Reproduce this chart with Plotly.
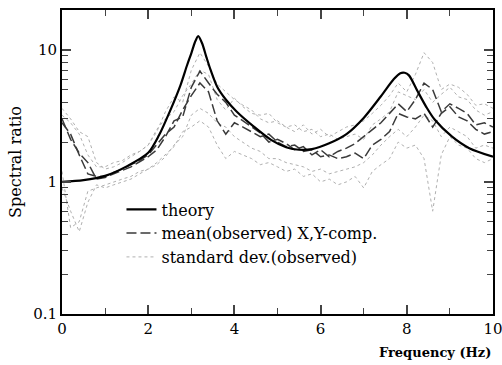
import plotly.graph_objects as go

# ---- data ----
freq_theory = [0, 0.5, 1.0, 1.5, 2.0, 2.25, 2.5, 2.75, 2.9, 3.0, 3.08, 3.16, 3.25, 3.35, 3.45, 3.6,
               3.8, 4.05, 4.45, 4.85, 5.2, 5.5, 5.8, 6.2, 6.6, 7.0, 7.4, 7.7, 7.85, 7.95, 8.05,
               8.25, 8.45, 8.65, 9.05, 9.45, 10.0]
theory = [1.0, 1.03, 1.11, 1.31, 1.66, 2.25, 3.4, 5.4, 7.6, 9.4, 11.3, 12.7, 11.2, 8.8, 7.0, 5.25,
          4.2, 3.41, 2.62, 2.08, 1.83, 1.75, 1.77, 1.96, 2.3, 3.05, 4.45, 6.0, 6.65, 6.7, 6.4,
          4.85, 3.7, 2.95, 2.2, 1.8, 1.55]

freq_obs = [0.0, 0.2, 0.4, 0.6, 0.8, 1.0, 1.2, 1.4, 1.6, 1.8, 2.0, 2.2, 2.4, 2.6, 2.8, 3.0, 3.2,
            3.4, 3.6, 3.8, 4.0, 4.2, 4.4, 4.6, 4.8, 5.0, 5.2, 5.4, 5.6, 5.8, 6.0, 6.2, 6.4, 6.6,
            6.8, 7.0, 7.2, 7.4, 7.6, 7.8, 8.0, 8.2, 8.4, 8.6, 8.8, 9.0, 9.2, 9.4, 9.6, 9.8, 10.0]

mean_x = [3.0, 2.1, 1.65, 1.4, 1.05, 1.08, 1.15, 1.22, 1.3, 1.42, 1.55, 1.75, 2.2, 2.9, 3.1, 5.2, 6.9,
          5.6, 4.6, 4.0, 3.2, 2.9, 2.6, 2.35, 2.0, 2.1, 1.95, 1.75, 1.85, 1.6, 1.75, 1.55, 1.7, 1.8,
          1.95, 2.2, 2.5, 2.8, 3.3, 3.9, 3.4, 4.2, 5.6, 5.0, 3.4, 3.9, 3.6, 3.3, 2.7, 2.8, 2.6]
mean_y = [2.8, 2.3, 1.6, 1.15, 1.1, 1.1, 1.18, 1.25, 1.35, 1.45, 1.6, 1.9, 2.3, 2.6, 3.5, 4.5, 5.6,
          4.8, 2.9, 2.3, 2.8, 2.6, 2.4, 2.2, 2.3, 2.0, 1.85, 1.9, 1.7, 1.75, 1.55, 1.6, 1.5, 1.55,
          1.65, 1.5, 1.9, 2.1, 2.4, 3.3, 3.1, 3.0, 3.3, 2.6, 3.3, 3.7, 3.1, 2.9, 2.5, 2.3, 2.4]

sd_upper_x = [3.6, 3.0, 2.4, 2.2, 1.4, 1.25, 1.3, 1.4, 1.55, 1.7, 1.9, 2.4, 3.4, 4.4, 4.0, 7.0, 9.5,
              7.5, 5.5, 4.8, 4.2, 3.8, 3.5, 3.0, 2.8, 2.9, 2.6, 2.4, 2.7, 2.3, 2.5, 2.2, 2.4, 2.6,
              2.7, 2.9, 3.3, 3.8, 4.5, 5.6, 4.8, 6.5, 9.5, 8.0, 5.0, 5.5, 5.2, 4.6, 3.8, 3.9, 3.6]
sd_lower_x = [1.2, 0.45, 0.5, 0.85, 0.9, 0.95, 1.0, 1.05, 1.1, 1.2, 1.25, 1.35, 1.55, 1.9, 2.2, 3.2,
              3.6, 3.3, 2.8, 2.6, 2.2, 2.0, 1.8, 1.7, 1.5, 1.5, 1.4, 1.35, 1.3, 1.2, 1.25, 1.15, 1.2,
              1.25, 1.3, 1.4, 1.6, 1.9, 2.2, 2.5, 2.2, 2.6, 3.2, 2.9, 2.2, 2.6, 2.4, 2.2, 1.8, 1.9, 1.8]
sd_upper_y = [3.2, 2.8, 2.3, 1.6, 1.3, 1.3, 1.4, 1.45, 1.6, 1.7, 1.9, 2.5, 3.0, 3.4, 4.5, 5.5, 7.0,
              6.5, 4.2, 3.5, 4.3, 3.7, 3.3, 3.2, 3.3, 2.8, 2.6, 2.7, 2.4, 2.5, 2.2, 2.3, 2.1, 2.2,
              2.3, 2.1, 2.7, 3.0, 3.4, 4.8, 4.5, 4.2, 5.0, 4.0, 4.6, 5.2, 4.4, 4.2, 3.5, 3.2, 3.4]
sd_lower_y = [0.9, 0.6, 0.42, 0.7, 0.95, 0.9, 0.95, 1.0, 1.05, 1.15, 1.25, 1.4, 1.6, 1.85, 2.4, 2.6,
              2.9, 2.6, 1.9, 1.5, 1.7, 1.6, 1.5, 1.35, 1.4, 1.3, 1.2, 1.25, 1.1, 1.15, 1.0, 1.05, 0.95,
              1.0, 1.1, 0.9, 1.2, 1.35, 1.5, 2.0, 1.8, 1.9, 1.5, 0.6, 1.6, 2.2, 1.9, 1.8, 1.5, 1.4, 1.5]

x_ticks = [0, 2, 4, 6, 8, 10]
y_ticks = [0.1, 1, 10]
y_tick_labels = ["0.1", "1", "10"]

SERIF = "DejaVu Serif"
SD_COLOR = "#b0b0b0"
MEAN_COLOR = "#3a3a3a"

fig = go.Figure()

sd_series = [sd_upper_x, sd_lower_x, sd_upper_y, sd_lower_y]
for i, s in enumerate(sd_series):
    fig.add_trace(go.Scatter(
        x=freq_obs, y=s, mode="lines",
        line=dict(color=SD_COLOR, width=1, dash="dot"),
        name="standard dev.(observed)", legendgroup="sd", showlegend=(i == 0),
        legendrank=3))

for i, s in enumerate([mean_x, mean_y]):
    fig.add_trace(go.Scatter(
        x=freq_obs, y=s, mode="lines",
        line=dict(color=MEAN_COLOR, width=1.5, dash="10px,4px"),
        name="mean(observed) X,Y-comp.", legendgroup="mean", showlegend=(i == 0),
        legendrank=2))

fig.add_trace(go.Scatter(
    x=freq_theory, y=theory, mode="lines",
    line=dict(color="black", width=2.2, shape="spline", smoothing=0.8),
    name="theory", legendrank=1))

fig.update_layout(
    width=502, height=365,
    margin=dict(l=62, r=9, t=10, b=51, autoexpand=False),
    paper_bgcolor="white", plot_bgcolor="white",
    font=dict(family=SERIF, color="black", size=15),
    showlegend=True,
    legend=dict(x=0.138, y=0.40, xanchor="left", yanchor="top",
                bgcolor="rgba(0,0,0,0)", font=dict(family=SERIF, size=16),
                tracegroupgap=0),
    xaxis=dict(range=[0, 10], tickvals=x_ticks, ticks="inside", ticklen=9, tickwidth=1.5,
               showline=True, linecolor="black", linewidth=2, mirror="ticks",
               showgrid=False, zeroline=False, automargin=False, ticklabeloverflow="allow",
               minor=dict(dtick=1, ticks="inside", ticklen=6, tickwidth=1, showgrid=False),
               tickfont=dict(family=SERIF, size=15)),
    yaxis=dict(type="log", range=[-1, 1.301], tickvals=y_ticks, ticktext=y_tick_labels,
               ticks="inside", ticklen=9, tickwidth=1.5,
               showline=True, linecolor="black", linewidth=2, mirror="ticks",
               showgrid=False, zeroline=False, automargin=False, ticklabeloverflow="allow",
               minor=dict(dtick="D1", ticks="inside", ticklen=6, tickwidth=1, showgrid=False),
               title=dict(text="Spectral ratio", font=dict(family=SERIF, size=16), standoff=8),
               tickfont=dict(family=SERIF, size=15)),
    annotations=[dict(text="<b>Frequency (Hz)</b>", xref="paper", yref="paper",
                      x=1.0, y=-0.128, xanchor="right", yanchor="middle", showarrow=False,
                      font=dict(family=SERIF, size=13))],
)

fig.write_html("out.html")
